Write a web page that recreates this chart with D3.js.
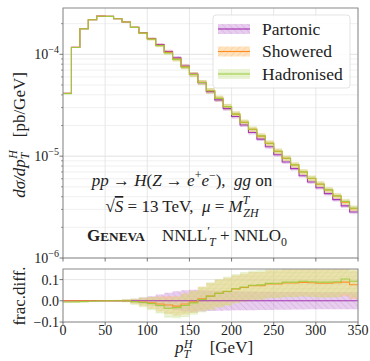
<!DOCTYPE html>
<html><head><meta charset="utf-8">
<script src="https://cdn.jsdelivr.net/npm/d3@7"></script>
<style>
body{margin:0;background:#fff;}
</style></head><body>
<svg id="chart" width="370" height="361"></svg>
<script>
// p_T^H bin edges [GeV]
const binEdges = [0,10,20,30,40,50,60,70,80,90,100,110,120,130,140,150,160,170,180,190,200,210,220,230,240,250,260,270,280,290,300,310,320,330,340,350];
// Partonic dσ/dp_T^H [pb/GeV] per bin
const partonic = [4.14e-5,1.172e-4,1.784e-4,2.188e-4,2.37e-4,2.36e-4,2.237e-4,2.076e-4,1.845e-4,1.629e-4,1.428e-4,1.245e-4,1.067e-4,9.22e-5,7.66e-5,6.39e-5,5.26e-5,4.30e-5,3.57e-5,2.93e-5,2.45e-5,2.02e-5,1.71e-5,1.47e-5,1.238e-5,1.033e-5,8.77e-6,7.55e-6,6.42e-6,5.57e-6,4.90e-6,4.29e-6,3.74e-6,3.25e-6,2.83e-6];
// fractional differences w.r.t. Partonic
const showeredDiff = [0,0,0,0,0,0,0,0,-0.003,-0.006,-0.01,-0.015,-0.02,-0.025,-0.015,-0.005,0.01,0.022,0.035,0.044,0.056,0.063,0.071,0.071,0.079,0.079,0.084,0.084,0.087,0.085,0.083,0.083,0.085,0.088,0.076];
const hadronisedDiff = [-0.006,-0.005,-0.004,-0.002,-0.001,0,0,0,-0.004,-0.008,-0.013,-0.022,-0.035,-0.032,-0.022,-0.01,0.006,0.022,0.035,0.045,0.057,0.065,0.073,0.075,0.082,0.083,0.088,0.088,0.092,0.09,0.088,0.088,0.09,0.103,0.092];
// relative uncertainty half-widths
const partonicErr = [0.004,0.003,0.003,0.003,0.002,0.002,0.003,0.006,0.01,0.015,0.022,0.03,0.038,0.045,0.05,0.052,0.05,0.048,0.047,0.046,0.045,0.044,0.044,0.043,0.043,0.042,0.042,0.041,0.041,0.04,0.04,0.04,0.04,0.04,0.04];
const showeredErr = [0.003,0.003,0.003,0.003,0.003,0.003,0.004,0.006,0.012,0.02,0.028,0.035,0.042,0.046,0.05,0.052,0.056,0.062,0.064,0.065,0.065,0.065,0.065,0.065,0.065,0.065,0.065,0.065,0.066,0.066,0.066,0.066,0.067,0.067,0.067];
const hadronisedErr = [0.004,0.004,0.004,0.004,0.004,0.004,0.005,0.008,0.015,0.023,0.031,0.038,0.045,0.05,0.054,0.056,0.06,0.066,0.068,0.069,0.07,0.07,0.07,0.07,0.07,0.07,0.071,0.071,0.072,0.072,0.072,0.072,0.073,0.073,0.073];
const seriesNames = ["Partonic","Showered","Hadronised"];
const xTicks = [0,50,100,150,200,250,300,350];
const ratioTicks = [-0.1,0.0,0.1];

const colors = {
  Partonic:{line:"#a02ab0", fill:"#c98ad6", hatch:"#b060c0", op:0.42},
  Showered:{line:"#ff8a1e", fill:"#ffbf70", hatch:"#f09a40", op:0.45},
  Hadronised:{line:"#9bcc3c", fill:"#c8e290", hatch:"#b8dc80", op:0.38}
};

// pick the first installed serif face (canvas width test against a monospace fallback)
function pickSerif(){
  const cands = ["Liberation Serif","DejaVu Serif","Noto Serif","Tinos","Times New Roman","FreeSerif","Nimbus Roman","Times"];
  const ctx = document.createElement("canvas").getContext("2d");
  const probe = "Hadronised ggmmWi 0123";
  ctx.font = "20px monospace"; const wm = ctx.measureText(probe).width;
  ctx.font = "20px sans-serif"; const ws = ctx.measureText(probe).width;
  for (const f of cands){
    ctx.font = `20px "${f}", monospace`; const a = ctx.measureText(probe).width;
    ctx.font = `20px "${f}", sans-serif`; const b = ctx.measureText(probe).width;
    if (a !== wm && b !== ws) return `"${f}", serif`;
  }
  return "serif";
}
const FONT = pickSerif();

const svg = d3.select("#chart").attr("font-family", FONT);
const X0=63, X1=358, MT=8, MB=258, LT=269, LB=322;
const x = d3.scaleLinear().domain([0,350]).range([X0,X1]);
const y = d3.scaleLog().domain([1e-6,2.85e-4]).range([MB,MT]);
const yr = d3.scaleLinear().domain([-0.1,0.15]).range([LB,LT]);

// hatch patterns
const defs = svg.append("defs");
function hatch(id, color, angle, gap){
  const p = defs.append("pattern").attr("id",id).attr("patternUnits","userSpaceOnUse")
    .attr("width",gap).attr("height",gap).attr("patternTransform",`rotate(${angle})`);
  p.append("line").attr("x1",0).attr("y1",0).attr("x2",0).attr("y2",gap)
    .attr("stroke",color).attr("stroke-width",0.7);
}
hatch("hP", colors.Partonic.hatch, -45, 4.5);
hatch("hS", colors.Showered.hatch, 45, 4.5);
hatch("hH", colors.Hadronised.hatch, 90, 4);
defs.append("clipPath").attr("id","cMain").append("rect").attr("x",X0).attr("y",MT).attr("width",X1-X0).attr("height",MB-MT);
defs.append("clipPath").attr("id","cLow").append("rect").attr("x",X0).attr("y",LT).attr("width",X1-X0).attr("height",LB-LT);

// step-shaped points: bin i spans [edge_i, edge_i+1]
function steps(vals){
  const p = vals.map((v,i)=>[binEdges[i], v]);
  p.push([binEdges[vals.length], vals[vals.length-1]]);
  return p;
}
function stepsBand(lo, hi){
  const p = lo.map((v,i)=>({x:binEdges[i], lo:v, hi:hi[i]}));
  p.push({x:binEdges[lo.length], lo:lo[lo.length-1], hi:hi[hi.length-1]});
  return p;
}

// ---------- grids ----------
const grid = svg.append("g");
const minorY = y.ticks().filter(t => Math.abs(Math.log10(t)-Math.round(Math.log10(t)))>1e-6);
const majorY = [1e-6,1e-5,1e-4];
grid.selectAll(".gm").data(minorY).join("line").attr("x1",X0).attr("x2",X1)
  .attr("y1",d=>y(d)).attr("y2",d=>y(d)).attr("stroke","#ececec").attr("stroke-width",0.8);
grid.selectAll(".gM").data(majorY).join("line").attr("x1",X0).attr("x2",X1)
  .attr("y1",d=>y(d)).attr("y2",d=>y(d)).attr("stroke","#dedede").attr("stroke-width",0.9);
grid.selectAll(".gx").data(xTicks).join("line").attr("x1",d=>x(d)).attr("x2",d=>x(d))
  .attr("y1",MT).attr("y2",MB).attr("stroke","#e4e4e4").attr("stroke-width",0.9);
grid.selectAll(".gx2").data(xTicks).join("line").attr("x1",d=>x(d)).attr("x2",d=>x(d))
  .attr("y1",LT).attr("y2",LB).attr("stroke","#e4e4e4").attr("stroke-width",0.9);
grid.selectAll(".gr").data(ratioTicks).join("line").attr("x1",X0).attr("x2",X1)
  .attr("y1",d=>yr(d)).attr("y2",d=>yr(d)).attr("stroke","#e4e4e4").attr("stroke-width",0.9);

// ---------- data panels ----------
const showered = partonic.map((v,i)=>v*(1+showeredDiff[i]));
const hadronised = partonic.map((v,i)=>v*(1+hadronisedDiff[i]));
const mainSeries = [
  {name:"Partonic", c:partonic, lo:partonic.map((v,i)=>v*(1-partonicErr[i])), hi:partonic.map((v,i)=>v*(1+partonicErr[i])), pat:"hP"},
  {name:"Showered", c:showered, lo:partonic.map((v,i)=>v*(1+showeredDiff[i]-showeredErr[i])), hi:partonic.map((v,i)=>v*(1+showeredDiff[i]+showeredErr[i])), pat:"hS"},
  {name:"Hadronised", c:hadronised, lo:partonic.map((v,i)=>v*(1+hadronisedDiff[i]-hadronisedErr[i])), hi:partonic.map((v,i)=>v*(1+hadronisedDiff[i]+hadronisedErr[i])), pat:"hH"}
];
const lowSeries = [
  {name:"Partonic", c:partonic.map(()=>0), lo:partonicErr.map(e=>-e), hi:partonicErr.slice(), pat:"hP"},
  {name:"Showered", c:showeredDiff, lo:showeredDiff.map((d,i)=>d-showeredErr[i]), hi:showeredDiff.map((d,i)=>d+showeredErr[i]), pat:"hS"},
  {name:"Hadronised", c:hadronisedDiff, lo:hadronisedDiff.map((d,i)=>d-hadronisedErr[i]), hi:hadronisedDiff.map((d,i)=>d+hadronisedErr[i]), pat:"hH"}
];

function drawPanel(g, series, ys){
  const area = d3.area().curve(d3.curveStepAfter).x(d=>x(d.x)).y0(d=>ys(d.lo)).y1(d=>ys(d.hi));
  const line = d3.line().curve(d3.curveStepAfter).x(d=>x(d[0])).y(d=>ys(d[1]));
  series.forEach(s=>{
    const b = stepsBand(s.lo, s.hi);
    g.append("path").attr("d",area(b)).attr("fill",colors[s.name].fill).attr("fill-opacity",colors[s.name].op);
    g.append("path").attr("d",area(b)).attr("fill",`url(#${s.pat})`).attr("opacity",0.5);
  });
  series.forEach(s=>{
    g.append("path").attr("d",line(steps(s.c))).attr("fill","none")
      .attr("stroke",colors[s.name].line).attr("stroke-width",1.1).attr("opacity",0.9);
  });
}
drawPanel(svg.append("g").attr("clip-path","url(#cMain)"), mainSeries, y);
drawPanel(svg.append("g").attr("clip-path","url(#cLow)"), lowSeries, yr);

// ---------- frames and axes ----------
[[MT,MB],[LT,LB]].forEach(([t,b])=>{
  svg.append("rect").attr("x",X0).attr("y",t).attr("width",X1-X0).attr("height",b-t)
    .attr("fill","none").attr("stroke","#8a8a8a").attr("stroke-width",1);
});
const tickCol="#555";
[MB,LB].forEach(yb=>{
  svg.append("g").selectAll("line").data(xTicks).join("line")
    .attr("x1",d=>x(d)).attr("x2",d=>x(d)).attr("y1",yb).attr("y2",yb+3.5).attr("stroke",tickCol).attr("stroke-width",0.8);
});
svg.append("g").selectAll("text").data(xTicks).join("text")
  .attr("x",d=>x(d)).attr("y",LB+13).attr("text-anchor","middle").attr("font-size",14).attr("fill","#222").text(d=>d);
svg.append("g").selectAll("line").data(majorY).join("line")
  .attr("x1",X0-3.5).attr("x2",X0).attr("y1",d=>y(d)).attr("y2",d=>y(d)).attr("stroke",tickCol).attr("stroke-width",0.8);
svg.append("g").selectAll("line").data(minorY).join("line")
  .attr("x1",X0-2).attr("x2",X0).attr("y1",d=>y(d)).attr("y2",d=>y(d)).attr("stroke",tickCol).attr("stroke-width",0.6);
const yl = svg.append("g").selectAll("text").data(majorY).join("text")
  .attr("x",X0-4).attr("y",d=>y(d)+5).attr("text-anchor","end").attr("font-size",14).attr("fill","#222");
yl.append("tspan").text("10");
yl.append("tspan").attr("dy",-6).attr("font-size",10).text(d=>"\u2212"+Math.round(-Math.log10(d)));
svg.append("g").selectAll("line").data(ratioTicks).join("line")
  .attr("x1",X0-3.5).attr("x2",X0).attr("y1",d=>yr(d)).attr("y2",d=>yr(d)).attr("stroke",tickCol).attr("stroke-width",0.8);
svg.append("g").selectAll("text").data(ratioTicks).join("text")
  .attr("x",X0-4).attr("y",d=>yr(d)+5).attr("text-anchor","end").attr("font-size",14).attr("fill","#222")
  .text(d=>d3.format(".1f")(d).replace("-","\u2212"));

// ---------- rich text: tspans with sub/superscripts (offsets in units of the base size) ----------
function richPx(g, parts, fs){
  const t = g.append("text").attr("font-size",fs).attr("fill","#222").style("white-space","pre");
  let off = 0;
  parts.forEach(p=>{
    const ts = t.append("tspan").text(p.t);
    if (p.it) ts.attr("font-style","italic");
    if (p.b) ts.attr("font-weight","bold");
    if (p.s) ts.attr("font-size", p.s*fs);
    if (p.dx) ts.attr("dx", p.dx);
    if (p.ol) ts.attr("text-decoration","overline");
    const o = (p.o||0)*fs;
    ts.attr("dy", off - o);
    off = o;
  });
  return t;
}

// axis titles
richPx(svg.append("g").attr("transform","translate(25,135) rotate(-90)"), [
  {t:"d\u03c3/dp",it:1},{t:"T",it:1,s:0.7,o:-0.25},{t:"H",it:1,s:0.7,o:0.45,dx:-6},{t:"   [pb/GeV]"}
],17).attr("text-anchor","middle");
svg.append("text").attr("transform","translate(25,296) rotate(-90)").attr("text-anchor","middle")
  .attr("font-size",17).attr("fill","#222").text("frac.diff.");
richPx(svg.append("g").attr("transform","translate(214,353)"), [
  {t:"p",it:1},{t:"T",it:1,s:0.7,o:-0.3},{t:"H",it:1,s:0.7,o:0.3,dx:-6},{t:"    [GeV]"}
],17).attr("text-anchor","middle");

// process annotations
richPx(svg.append("g").attr("transform","translate(182,186)"), [
  {t:"pp",it:1},{t:" \u2192 "},{t:"H",it:1},{t:"("},{t:"Z",it:1},{t:" \u2192 "},{t:"e",it:1},
  {t:"+",s:0.7,o:0.4},{t:"e",it:1},{t:"\u2212",s:0.7,o:0.4},{t:"),  "},{t:"gg",it:1},{t:" on"}
],17).attr("text-anchor","middle");
richPx(svg.append("g").attr("transform","translate(182,212)"), [
  {t:"\u221a"},{t:"S",it:1,ol:1},{t:" = 13 TeV,  "},{t:"\u03bc",it:1},{t:" = "},{t:"M",it:1},
  {t:"T",it:1,s:0.7,o:0.45},{t:"ZH",it:1,s:0.7,o:-0.3,dx:-6}
],17).attr("text-anchor","middle");
richPx(svg.append("g").attr("transform","translate(87,241)"), [
  {t:"G",b:1},{t:"ENEVA",b:1,s:0.78},{t:"    NNLL"},{t:"\u2032",s:0.75,o:0.35},{t:"T",it:1,s:0.7,o:-0.3,dx:-1},
  {t:" + NNLO"},{t:"0",s:0.7,o:-0.3}
],17);

// ---------- legend ----------
const lg = svg.append("g");
lg.append("rect").attr("x",213).attr("y",15).attr("width",137).attr("height",73).attr("rx",3)
  .attr("fill","#fff").attr("fill-opacity",0.85).attr("stroke","#dcdcdc").attr("stroke-width",0.8);
const pats = {Partonic:"hP",Showered:"hS",Hadronised:"hH"};
seriesNames.forEach((n,i)=>{
  const cy = 29 + i*22.5;
  lg.append("rect").attr("x",218).attr("y",cy-5).attr("width",32).attr("height",10)
    .attr("fill",colors[n].fill).attr("fill-opacity",colors[n].op);
  lg.append("rect").attr("x",218).attr("y",cy-5).attr("width",32).attr("height",10)
    .attr("fill",`url(#${pats[n]})`).attr("opacity",0.5);
  lg.append("line").attr("x1",218).attr("x2",250).attr("y1",cy).attr("y2",cy)
    .attr("stroke",colors[n].line).attr("stroke-width",1.1);
  lg.append("text").attr("x",262).attr("y",cy+5.5).attr("font-size",17.5).attr("fill","#222").text(n);
});
</script>
</body></html>
